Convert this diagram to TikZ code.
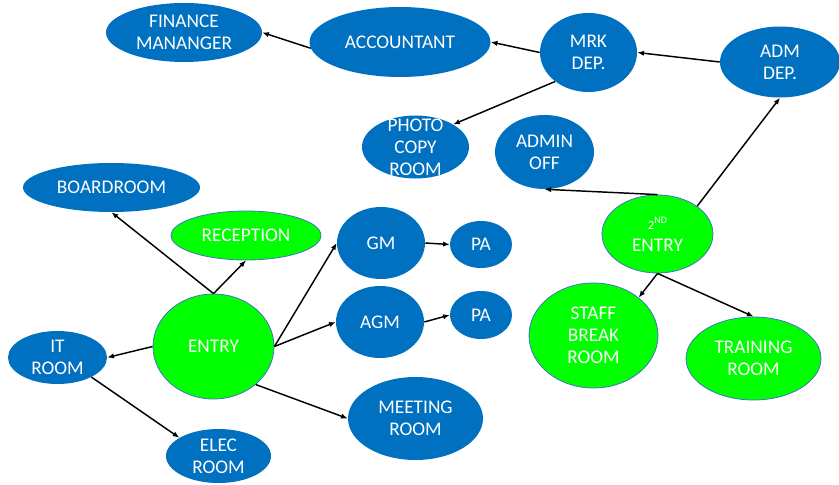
\documentclass[tikz,border=0pt]{standalone}
\usepackage{fontspec}
\setmainfont{Carlito}
\usetikzlibrary{shapes.geometric, arrows.meta}

\definecolor{roomblue}{RGB}{0,112,192}
\definecolor{roomgreen}{RGB}{0,255,0}
\definecolor{rimblue}{RGB}{68,114,196}

\begin{document}
\begin{tikzpicture}[x = 0.75pt, y = -0.75pt, > = {Latex[length = 5pt, width = 4pt]},
	font = \fontsize{14.5}{16.5}\selectfont,
	room/.style = {ellipse, inner sep = -8pt, align = center, text = white},
	blue room/.style = {room, fill = roomblue},
	green room/.style = {room, fill = roomgreen, draw = rimblue, line width = 0.6pt},
	sz/.style 2 args = {minimum width = #1*0.75pt, minimum height = #2*0.75pt},
	link/.style = {->, line width = 1.1pt}]

	% Page size
	
	\useasboundingbox (0, 0) rectangle (839, 485);
	
	% Top row
	
	\node [blue room, sz = {156}{59}] (fin) at (184, 32.5) {FINANCE\\MANANGER};
	\node [blue room, sz = {181}{70}] (acct) at (400, 42) {ACCOUNTANT};
	\node [blue room, sz = {97}{79}] (mrk) at (588.5, 52.5) {MRK\\DEP.};
	\node [blue room, sz = {120}{71}] (adm) at (780, 62) {ADM\\DEP.};
	\node [blue room, sz = {107}{63}] (photo) at (415.5, 147) {PHOTO\\COPY\\ROOM};
	\node [blue room, sz = {99}{74}] (admin) at (544.5, 152) {ADMIN\\OFF};
	
	% Second entry wing
	
	\node [green room, sz = {111}{78}] (entry2) at (657.5, 234)
		{{\fontsize{9.5}{11}\selectfont 2\raisebox{0.5em}{\fontsize{7.5}{9}\selectfont ND}}\\ENTRY};
	\node [green room, sz = {129}{105}] (staff) at (593.5, 335.5) {STAFF\\BREAK\\ROOM};
	\node [green room, sz = {135}{83}] (train) at (753.5, 358.5) {TRAINING\\ROOM};
	
	% Main entry wing
	
	\node [green room, sz = {121}{105}] (entry) at (213.5, 346.5) {ENTRY};
	\node [blue room, sz = {177}{49}] (board) at (111.5, 187.5) {BOARDROOM};
	\node [green room, sz = {150}{49}] (recep) at (246, 235.5) {RECEPTION};
	\node [blue room, sz = {88}{72}] (gm) at (381, 243) {GM};
	\node [blue room, sz = {62}{47}] (pa1) at (481, 244.5) {PA};
	\node [blue room, sz = {88}{72}] (agm) at (380, 322) {AGM};
	\node [blue room, sz = {62}{48}] (pa2) at (481, 315) {PA};
	\node [blue room, sz = {99}{53}] (it) at (57.5, 357.5) {IT\\ROOM};
	\node [blue room, sz = {105}{54}] (elec) at (218.5, 456) {ELEC\\ROOM};
	\node [blue room, sz = {135}{83}] (meet) at (415.5, 418.5) {MEETING\\ROOM};
	
	% Connectors
	
	\draw [link] (acct.184) -- (fin.east);
	\draw [link] (mrk.west) -- (acct.east);
	\draw [link] (adm.west) -- (mrk.east);
	\draw [link] (mrk.221) -- (photo.31);
	\draw [link] (entry2.north) -- (admin.south);
	\draw [link] (entry2.35) -- (adm.south);
	\draw [link] (entry2.south) -- (staff.40);
	\draw [link] (entry2.south) -- (train.north);
	
	\draw [link] (entry.north) -- (board.south);
	\draw [link] (entry.north) -- (recep.south);
	\draw [link] (entry.east) -- (gm.west);
	\draw [link] (entry.east) -- (agm.west);
	\draw [link] (entry.west) -- (it.east);
	\draw [link] (it.-30) -- (elec.155);
	\draw [link] (entry.-42) -- (meet.west);
	\draw [link] (gm.east) -- (pa1.west);
	\draw [link] (agm.east) -- (pa2.west);

\end{tikzpicture}
\end{document}
